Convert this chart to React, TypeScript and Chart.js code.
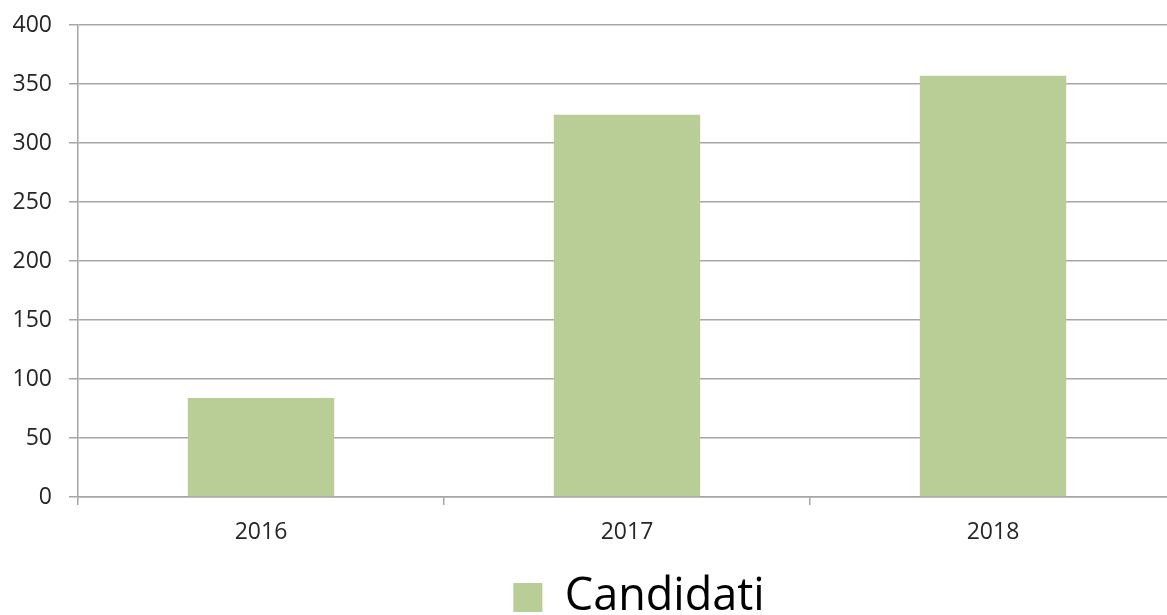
import { useEffect, useRef } from "react";
import { Chart, registerables } from "chart.js";

Chart.register(...registerables);

const categories = ["2016", "2017", "2018"];
const candidati = [84, 324, 357];
const seriesLabel = "Candidati";
const yMin = 0;
const yMax = 400;
const yStep = 50;

const GRID = "#a6a6a6";
const TICK = "#262626";
const BAR = "#B9CD96";
const FONT = "'Open Sans', sans-serif";

export default function App() {
  const ref = useRef<HTMLCanvasElement>(null);
  useEffect(() => {
    const chart = new Chart(ref.current!, {
      type: "bar",
      data: {
        labels: categories,
        datasets: [
          {
            label: seriesLabel,
            data: candidati,
            backgroundColor: BAR,
            borderWidth: 0,
            categoryPercentage: 1,
            barPercentage: 0.4,
            yAxisID: "y",
          },
        ],
      },
      options: {
        animation: false,
        responsive: true,
        maintainAspectRatio: false,
        layout: { padding: { top: 25, left: 0, right: 0, bottom: 0 } },
        plugins: {
          legend: {
            position: "bottom",
            labels: {
              boxWidth: 29,
              boxHeight: 29,
              padding: 10,
              color: "#000",
              font: { family: FONT, size: 45 },
            },
          },
          tooltip: { enabled: false },
        },
        scales: {
          x: {
            offset: true,
            grid: {
              offset: true,
              drawOnChartArea: false,
              drawTicks: true,
              tickLength: 8,
              color: GRID,
              lineWidth: 1.5,
            },
            border: { display: true, color: GRID, width: 1.5 },
            ticks: { padding: 14, color: TICK, font: { family: FONT, size: 23 } },
            afterFit: (s: any) => {
              s.height = 68;
            },
          },
          y: {
            min: yMin,
            max: yMax,
            ticks: { stepSize: yStep, padding: 17, color: TICK, font: { family: FONT, size: 23 } },
            grid: { color: GRID, lineWidth: 1.5, tickLength: 9 },
            border: { display: true, color: GRID, width: 1.5 },
            afterFit: (s: any) => {
              s.width = 78;
              s.paddingTop = 0;
              s.paddingBottom = 0;
            },
          },
          y2: {
            position: "right",
            grid: { display: false },
            ticks: { display: false },
            border: { display: false },
            afterFit: (s: any) => {
              s.width = 102;
              s.paddingTop = 0;
              s.paddingBottom = 0;
            },
          },
        },
      },
    });
    return () => chart.destroy();
  }, []);
  return (
    <div
      style={{
        position: "fixed",
        left: 0,
        top: 0,
        width: 1167,
        height: 615,
        overflow: "hidden",
        background: "#fff",
      }}
    >
      <div style={{ position: "relative", width: 1278, height: 630 }}>
        <canvas ref={ref} />
      </div>
    </div>
  );
}
